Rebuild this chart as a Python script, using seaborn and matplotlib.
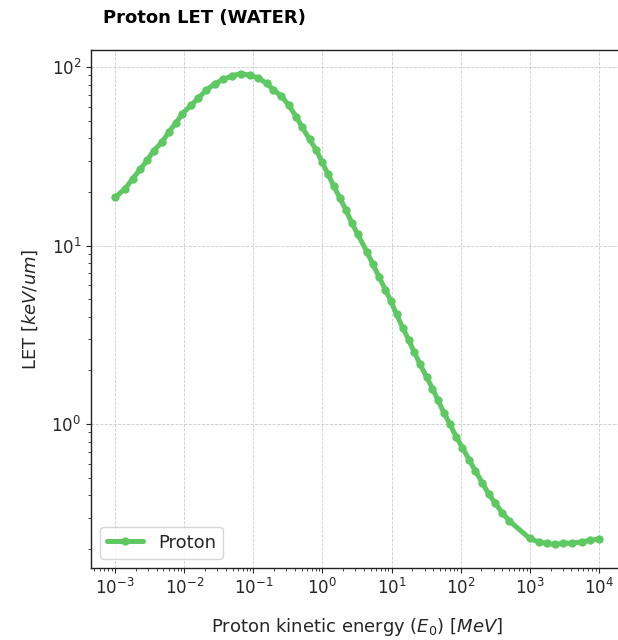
import matplotlib
matplotlib.use("Agg")
import matplotlib.pyplot as plt
from matplotlib.ticker import NullFormatter
import seaborn as sns
import pandas as pd

energy_mev = [0.001, 0.0014, 0.0018, 0.0023, 0.0029, 0.0036, 0.0048, 0.006, 0.0076, 0.0094,
              0.0126, 0.016, 0.0207, 0.0279, 0.0368, 0.0485, 0.0655, 0.089, 0.118, 0.155,
              0.194, 0.255, 0.324, 0.419, 0.506, 0.652, 0.815, 0.984, 1.2, 1.47,
              1.8, 2.2, 2.66, 3.24, 4.43, 5.35, 6.65, 8.13, 9.8, 11.8,
              14.5, 17.6, 21.2, 25.9, 32.1, 39.1, 47.1, 57.5, 70.2, 86.1,
              106, 132, 164, 206, 256, 319, 399, 508, 1000, 1340,
              1770, 2340, 3080, 4070, 5680, 7460, 10000]
let_kev_um = [18.7, 20.9, 23.8, 26.8, 30.1, 34.0, 38.2, 43.5, 48.8, 55.0,
              61.3, 67.3, 74.3, 81.0, 85.4, 89.4, 92.2, 90.2, 87.1, 81.2,
              75.0, 68.8, 61.3, 52.7, 46.3, 39.4, 34.3, 29.5, 25.2, 21.5,
              18.4, 15.8, 13.4, 11.6, 9.2, 7.9, 6.65, 5.66, 4.9, 4.13,
              3.48, 2.98, 2.54, 2.17, 1.84, 1.585, 1.36, 1.156, 1.0, 0.85,
              0.74, 0.634, 0.547, 0.469, 0.405, 0.36, 0.319, 0.287, 0.229, 0.219,
              0.215, 0.212, 0.215, 0.216, 0.219, 0.224, 0.227]
series_name = "Proton"

df = pd.DataFrame({"E": energy_mev, "LET": let_kev_um, "particle": series_name})

sns.set_style("ticks")
plt.rcParams['font.family'] = ['DejaVu Sans']

fig = plt.figure(figsize=(6.18, 6.4), dpi=100)
ax = fig.add_axes([91/618, 72/640, 532/618, 518/640])

sns.lineplot(data=df, x="E", y="LET", label=series_name, color="#5ec962",
             marker="o", markersize=6, markeredgewidth=0, linewidth=3.6, ax=ax)
ax.set_xscale("log")
ax.set_yscale("log")
ax.xaxis.set_minor_formatter(NullFormatter())
ax.yaxis.set_minor_formatter(NullFormatter())
ax.grid(True, which="major", ls="--", lw=0.6, color="#cccccc")
ax.tick_params(axis="both", which="major", labelsize=12)
for s in ax.spines.values():
    s.set_color("#222222")
    s.set_linewidth(1.0)

ax.set_xlabel("Proton kinetic energy ($E_0$) [$MeV$]", fontsize=13, labelpad=13)
ax.set_ylabel("LET [$keV/um$]", fontsize=13, labelpad=8)
fig.text(103/618, 0.972, "Proton LET (WATER)", fontsize=13, fontweight="bold",
         ha="left", va="center", color="black")
ax.legend(loc="lower left", fontsize=13, frameon=True)

fig.savefig("out.png", dpi=100)
